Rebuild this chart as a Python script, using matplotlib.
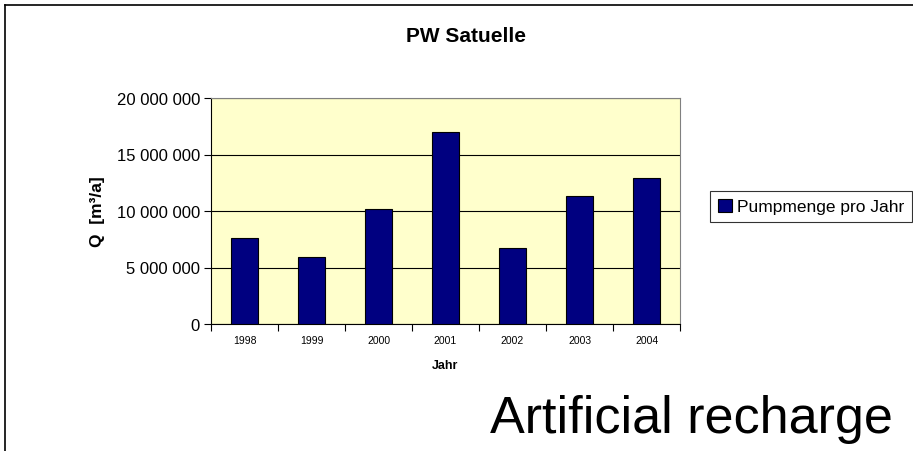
import matplotlib
matplotlib.use('Agg')
from matplotlib import pyplot as plt
from matplotlib.lines import Line2D
from matplotlib.ticker import FuncFormatter, MultipleLocator

# data
years = ['1998', '1999', '2000', '2001', '2002', '2003', '2004']
pumped = [7650000, 5950000, 10150000, 17000000, 6700000, 11350000, 12900000]

plt.rcParams['font.family'] = ['Liberation Sans', 'DejaVu Sans']

fig = plt.figure(figsize=(9.13, 4.52), dpi=100)
ax = fig.add_axes([211 / 913, 1 - 325 / 452, 469 / 913, 226 / 452])
ax.set_facecolor('#ffffcc')

x = list(range(len(years)))
ax.bar(x, pumped, width=0.41, color='#000080', edgecolor='black', linewidth=0.8,
       label='Pumpmenge pro Jahr', zorder=3)

ax.set_xlim(-0.5, len(years) - 0.5)
ax.set_ylim(0, 20000000)
ax.yaxis.set_major_locator(MultipleLocator(5000000))
ax.yaxis.set_major_formatter(FuncFormatter(lambda v, p: f'{int(v):,}'.replace(',', ' ')))
ax.grid(axis='y', color='black', linewidth=0.8, zorder=1)

ax.set_xticks(x)
ax.set_xticklabels(years, fontsize=7.5)
ax.set_xticks([i - 0.5 for i in range(len(years) + 1)], minor=True)
ax.tick_params(axis='x', which='major', length=0, pad=8)
ax.tick_params(axis='x', which='minor', length=5, width=0.8, direction='out')
ax.tick_params(axis='y', length=5, width=0.8, labelsize=12, pad=3)

for s in ['top', 'right']:
    ax.spines[s].set_color('#808080')
for s in ['left', 'bottom']:
    ax.spines[s].set_color('black')
    ax.spines[s].set_linewidth(0.8)

ax.set_xlabel('Jahr', fontsize=9, fontweight='bold', labelpad=10)
ax.set_ylabel('Q  [m³/a]', fontsize=12.5, fontweight='bold', labelpad=8)
fig.text(466 / 913, 1 - 37 / 452, 'PW Satuelle', ha='center', va='center',
         fontsize=15, fontweight='bold')

leg = fig.legend(loc='upper left', bbox_to_anchor=(710 / 913, 1 - 192 / 452),
                 fontsize=12.5, frameon=True, fancybox=False, edgecolor='black',
                 handlelength=0.8, handleheight=0.8, handletextpad=0.3,
                 borderpad=0.45, borderaxespad=0)
leg.get_frame().set_linewidth(0.8)

fig.text(893 / 913, 1 - 419 / 452, 'Artificial recharge', ha='right', va='center',
         fontsize=37.5)

# outer chart frame (cut off at right and bottom)
fig.add_artist(Line2D([5 / 913, 1], [1 - 6 / 452, 1 - 6 / 452], color='black', linewidth=1.2))
fig.add_artist(Line2D([5 / 913, 5 / 913], [0, 1 - 6 / 452], color='black', linewidth=1.2))

fig.savefig('out.png', dpi=100)
